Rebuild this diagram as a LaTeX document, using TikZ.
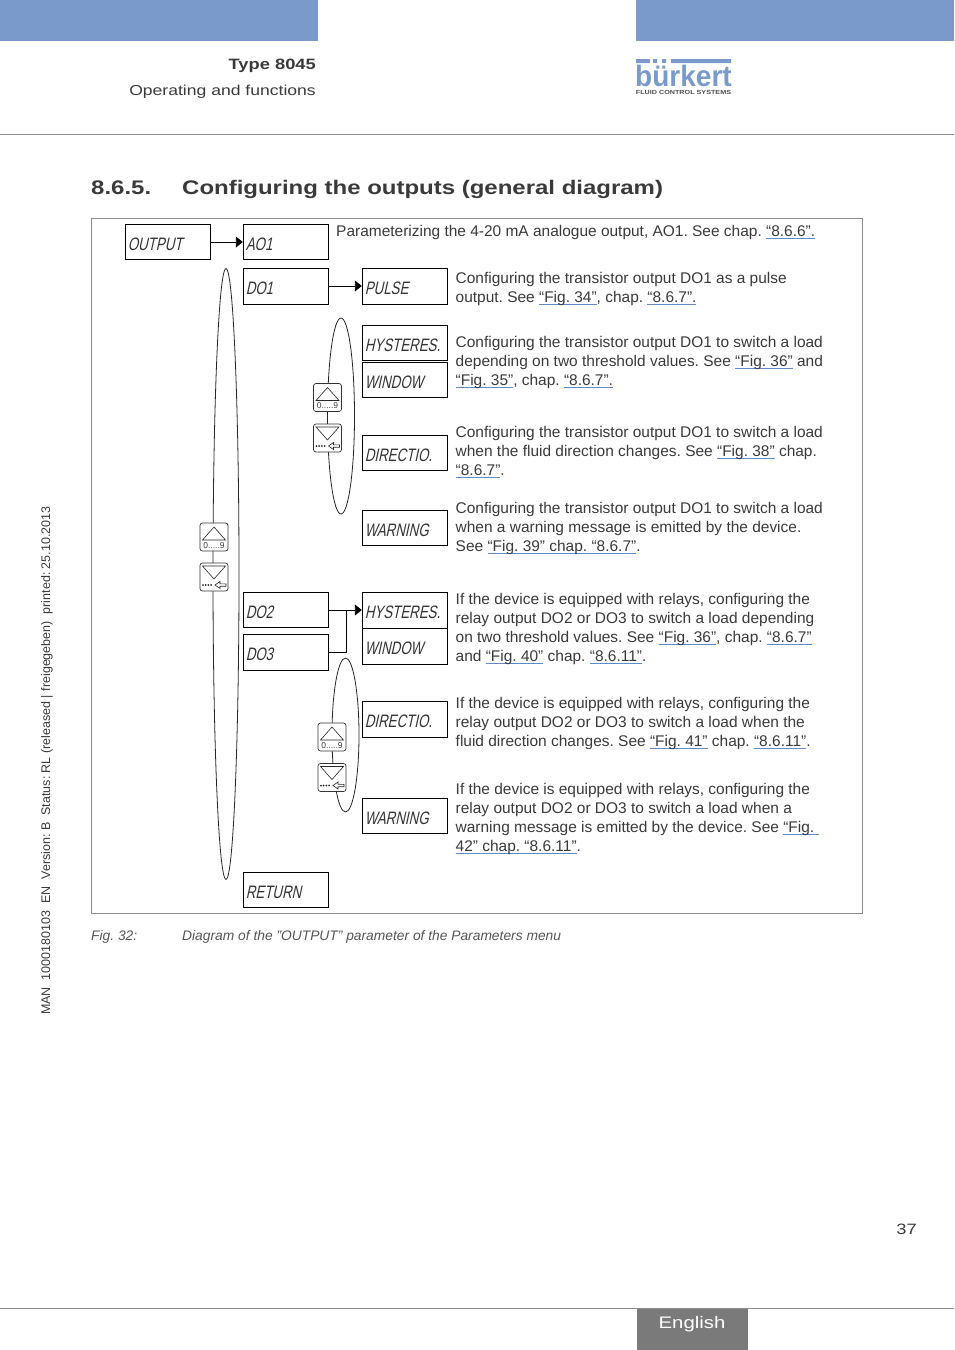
\documentclass[tikz,border=0pt]{standalone}
\usepackage{fontspec}
\setmainfont{Liberation Sans}
\newfontfamily\widefont[FakeStretch=1.22]{Liberation Sans}
\newfontfamily\logofont[FakeStretch=0.95]{Liberation Sans}
\newfontfamily\lcdfont[FakeStretch=0.74,FakeSlant=0.22]{Liberation Sans}
\usetikzlibrary{arrows.meta}
\frenchspacing
\definecolor{band}{HTML}{7A9ACB}
\definecolor{ink}{HTML}{3A3A3A}
\definecolor{rulegray}{HTML}{8C8C8C}
\definecolor{link}{HTML}{5F8AC8}
\definecolor{capgray}{HTML}{555555}
\newcommand\lk[1]{{\setbox0=\hbox{#1}\rlap{\color{link}\rule[-2.6pt]{\wd0}{1.1pt}}\box0}}
\newcommand\lw[1]{\raisebox{-8.5pt}[0pt][0pt]{#1}}
\tikzset{
  x=1pt,y=-1pt,
  para/.style={anchor=north west,inner sep=0pt,align=left,text=ink,font=\fontsize{15.47}{19}\selectfont},
  lcd/.style={draw=black,line width=0.9pt,minimum width=85.5pt,minimum height=#1,inner sep=0pt,fill=white,
     text width=80.5pt,align=left,text=black!80,font=\lcdfont\fontsize{18}{18}\selectfont},
  lcd/.default=35pt,
  keybox/.style={draw=black!80,line width=0.7pt,rounded corners=2.5pt,fill=white,minimum width=28pt,minimum height=28pt,inner sep=0pt},
  orbit/.style={draw=black!85,line width=0.8pt},
  arr/.style={draw=black,line width=0.9pt,-{Triangle[length=7pt,width=11pt]}},
  plain/.style={draw=black,line width=0.9pt},
  keyline/.style={draw=black!85,line width=0.6pt},
}
\newcommand\upkey[3]{%
  \node[keybox] (#1) at (#2,#3) {};
  \draw[keyline] ([shift={(-11.5,3)}]#1.center) -- ([shift={(0,-10)}]#1.center) -- ([shift={(11.5,3)}]#1.center) -- cycle;
  \node[inner sep=0pt,text=black!75,font=\fontsize{8.5}{9}\selectfont] (#1t) at ([shift={(0,8.5)}]#1.center) {0.....9};
}
\newcommand\downkey[3]{%
  \node[keybox] (#1) at (#2,#3) {};
  \draw[keyline] ([shift={(-11.5,-11)}]#1.center) -- ([shift={(11.5,-11)}]#1.center) -- ([shift={(0,2)}]#1.center) -- cycle;
  \foreach \d in {0,2.7,5.4,8.1}{\fill[black!85] ([shift={(-11+\d,8)}]#1.center) circle (1pt);}
  \draw[keyline] ([shift={(1,8)}]#1.center) -- ([shift={(6,4.5)}]#1.center) -- ([shift={(6,6.8)}]#1.center) -- ([shift={(12,6.8)}]#1.center) -- ([shift={(12,9.2)}]#1.center) -- ([shift={(6,9.2)}]#1.center) -- ([shift={(6,11.5)}]#1.center) -- cycle;
}
\begin{document}
\begin{tikzpicture}
\useasboundingbox (0,0) rectangle (954,1350);
% page furniture
\fill[band] (0,0) rectangle (318,41);
\fill[band] (636,0) rectangle (954,41);
\draw[rulegray,line width=0.8pt] (0,134.5) -- (954,134.5);
\draw[rulegray,line width=0.8pt] (0,1308.5) -- (954,1308.5);
\fill[black!52] (637,1309) rectangle (748,1350);
\node[inner sep=0pt,text=white,font=\widefont\fontsize{16.7}{18}\selectfont] (lang) at (692,1324) {English};
\node[inner sep=0pt,text=ink,font=\widefont\fontsize{15}{18}\selectfont,anchor=base east] (pageno) at (917,1234) {37};
\node[anchor=base east,inner sep=0pt,text=ink,font=\widefont\bfseries\fontsize{15}{18}\selectfont] (type) at (316,69) {Type 8045};
\node[anchor=base east,inner sep=0pt,text=ink,font=\widefont\fontsize{14.4}{18}\selectfont] (oper) at (316,95) {Operating and functions};
% logo
\fill[band] (636,59) rectangle (650,63) (653,59) rectangle (657,63) (662,59) rectangle (666,63) (671,59) rectangle (731,63);
\node[anchor=base,inner sep=0pt,text=band,font=\logofont\bfseries\fontsize{29.5}{30}\selectfont] (logo) at (683.5,86.5) {bürkert};
\node[anchor=base,inner sep=0pt,text=black!70,font=\widefont\bfseries\fontsize{5.9}{6}\selectfont] (logosub) at (683.5,94.5) {FLUID CONTROL SYSTEMS};
% heading
\node[anchor=base west,inner sep=0pt,text=ink,font=\widefont\bfseries\fontsize{19.65}{22}\selectfont] (hnum) at (91,194) {8.6.5.};
\node[anchor=base west,inner sep=0pt,text=ink,font=\widefont\bfseries\fontsize{19.65}{22}\selectfont] (htitle) at (182,194) {Configuring the outputs (general diagram)};
% side text
\node[rotate=90,anchor=base west,inner sep=0pt,text=ink,font=\fontsize{12.5}{14}\selectfont] (side) at (50,1015) {MAN\ \ 1000180103\ \ EN\ \ Version: B\ \ Status: RL (released | freigegeben)\ \ printed: 25.10.2013};
% frame
\draw[rulegray,line width=0.9pt] (91.5,218) rectangle (862.5,913.5);
% orbits
\draw[orbit] (226,574) ellipse [x radius=13,y radius=305.5];
\draw[orbit] (341,416) ellipse [x radius=13.5,y radius=98];
\draw[orbit] (345.5,735) ellipse [x radius=13.5,y radius=77];
% boxes
\node[lcd] (output) at (168,242) {\lw{OUTPUT}};
\node[lcd] (ao1) at (286,242) {\lw{AO1}};
\node[lcd=36pt] (do1) at (286,286) {\lw{DO1}};
\node[lcd=36pt] (pulse) at (405,286) {\lw{PULSE}};
\node[lcd] (hys1) at (405,342.5) {\lw{HYSTERES.}};
\node[lcd] (win1) at (405,379.5) {\lw{WINDOW}};
\node[lcd] (dir1) at (405,452.5) {\lw{DIRECTIO.}};
\node[lcd] (warn1) at (405,527.5) {\lw{WARNING}};
\node[lcd] (do2) at (286,610) {\lw{DO2}};
\node[lcd=36pt] (do3) at (286,652) {\lw{DO3}};
\node[lcd=36pt] (hys2) at (405,610) {\lw{HYSTERES.}};
\node[lcd=36pt] (win2) at (405,646) {\lw{WINDOW}};
\node[lcd=36pt] (dir2) at (405,719) {\lw{DIRECTIO.}};
\node[lcd] (warn2) at (405,815.5) {\lw{WARNING}};
\node[lcd] (ret) at (286,889.5) {\lw{RETURN}};
% connectors
\draw[arr] (output.east) -- (ao1.west);
\draw[arr] (do1.east) -- (pulse.west);
\draw[arr] (do2.east) -- (hys2.west);
\coordinate (join) at (346,610);
\draw[plain] (do3.east) -| (join);
% keys
\upkey{k1u}{327.5}{397.5}
\downkey{k1d}{327.5}{438}
\upkey{k2u}{214}{537}
\downkey{k2d}{214}{577}
\upkey{k3u}{332}{737}
\downkey{k3d}{332}{777.5}
% texts
\node[para] (t0) at (336,225) {Parameterizing the 4-20 mA analogue output, AO1. See chap. \lk{“8.6.6”.}};
\node[para] (t1) at (455.5,272) {Configuring the transistor output DO1 as a pulse\\output. See \lk{“Fig. 34”}, chap. \lk{“8.6.7”.}};
\node[para] (t2) at (455.5,336) {Configuring the transistor output DO1 to switch a load\\depending on two threshold values. See \lk{“Fig. 36”} and\\\lk{“Fig. 35”}, chap. \lk{“8.6.7”.}};
\node[para] (t3) at (455.5,426) {Configuring the transistor output DO1 to switch a load\\when the fluid direction changes. See \lk{“Fig. 38”} chap.\\\lk{“8.6.7”}.};
\node[para] (t4) at (455.5,502) {Configuring the transistor output DO1 to switch a load\\when a warning message is emitted by the device.\\See \lk{“Fig. 39” chap. “8.6.7”}.};
\node[para] (t5) at (455.5,593) {If the device is equipped with relays, configuring the\\relay output DO2 or DO3 to switch a load depending\\on two threshold values. See \lk{“Fig. 36”}, chap. \lk{“8.6.7”}\\and \lk{“Fig. 40”} chap. \lk{“8.6.11”}.};
\node[para] (t6) at (455.5,697) {If the device is equipped with relays, configuring the\\relay output DO2 or DO3 to switch a load when the\\fluid direction changes. See \lk{“Fig. 41”} chap. \lk{“8.6.11”}.};
\node[para] (t7) at (455.5,783) {If the device is equipped with relays, configuring the\\relay output DO2 or DO3 to switch a load when a\\warning message is emitted by the device. See \lk{“Fig.\ }\\\lk{42” chap. “8.6.11”}.};
% caption
\node[anchor=base west,inner sep=0pt,text=capgray,font=\itshape\fontsize{13.8}{16}\selectfont] (capn) at (91,940) {Fig. 32:};
\node[anchor=base west,inner sep=0pt,text=capgray,font=\itshape\fontsize{13.8}{16}\selectfont] (capt) at (182,940) {Diagram of the \char34 OUTPUT\char34{} parameter of the Parameters menu};
\end{tikzpicture}
\end{document}
